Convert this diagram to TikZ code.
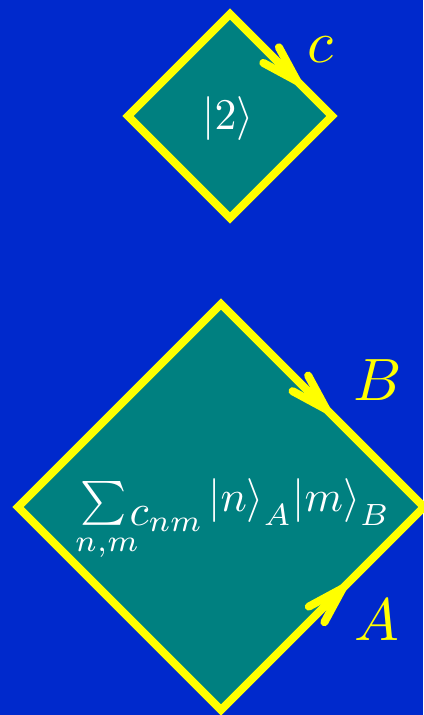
\documentclass[tikz,border=0pt]{standalone}
\usepackage{amsmath}
\usetikzlibrary{calc}
\definecolor{bgblue}{RGB}{0,41,204}
\definecolor{boxteal}{RGB}{0,128,128}
\definecolor{edgeyellow}{RGB}{255,255,0}
\newcommand{\rket}[2]{\raisebox{0.3em}{$|#1\rangle$}\raisebox{0.15em}{$_{#2}$}}
\begin{document}
\begin{tikzpicture}[x=1bp,y=-1bp,
  diam/.style={draw=edgeyellow, fill=boxteal, line width=8bp, line join=miter},
  barb/.style={draw=edgeyellow, line width=8bp, line cap=round, line join=round},
  lbl/.style={text=edgeyellow, anchor=base, inner sep=0pt, scale=6},
  intext/.style={text=white, anchor=base, inner sep=0pt}]
\fill[bgblue] (0,0) rectangle (423,715);
\useasboundingbox (0,0) rectangle (423,715);
% top diamond
\coordinate (t1) at (230,14);
\coordinate (r1) at (332,116);
\coordinate (b1) at (230,218);
\coordinate (l1) at (128,116);
\draw[diam] (t1) -- (r1) -- (b1) -- (l1) -- cycle;
\coordinate (ct) at ($(t1)!0.66!(r1)$);
\draw[barb] ($(ct)+(-18.4,-34)$) -- (ct) -- ($(ct)+(-34,-18.4)$);
% bottom diamond
\coordinate (t2) at (221,304);
\coordinate (r2) at (424,507);
\coordinate (b2) at (221,710);
\coordinate (l2) at (18,507);
\draw[diam] (t2) -- (r2) -- (b2) -- (l2) -- cycle;
\coordinate (bt) at ($(t2)!0.52!(r2)$);
\draw[barb] ($(bt)+(-18.4,-34)$) -- (bt) -- ($(bt)+(-34,-18.4)$);
\coordinate (at) at ($(b2)!0.6!(r2)$);
\draw[barb] ($(at)+(-18.4,34)$) -- (at) -- ($(at)+(-34,18.4)$);
% texts
\node[intext, scale=4.4] (s2) at (228,130) {$|2\rangle$};
\node[intext, anchor=base west, scale=4.4] (psi) at (80,525)
  {$\mathop{\raisebox{0.24em}{$\sum$}}\limits_{\makebox[0pt][l]{$\scriptstyle n,m$}}\mkern-2mu c_{nm}\mkern2mu\rket{n}{A}\rket{m}{B}$};
\node[lbl] (lc) at (320,63) {$c$};
\node[lbl] (lB) at (378,400) {$B$};
\node[lbl] (lA) at (377,640) {$A$};
\end{tikzpicture}
\end{document}
